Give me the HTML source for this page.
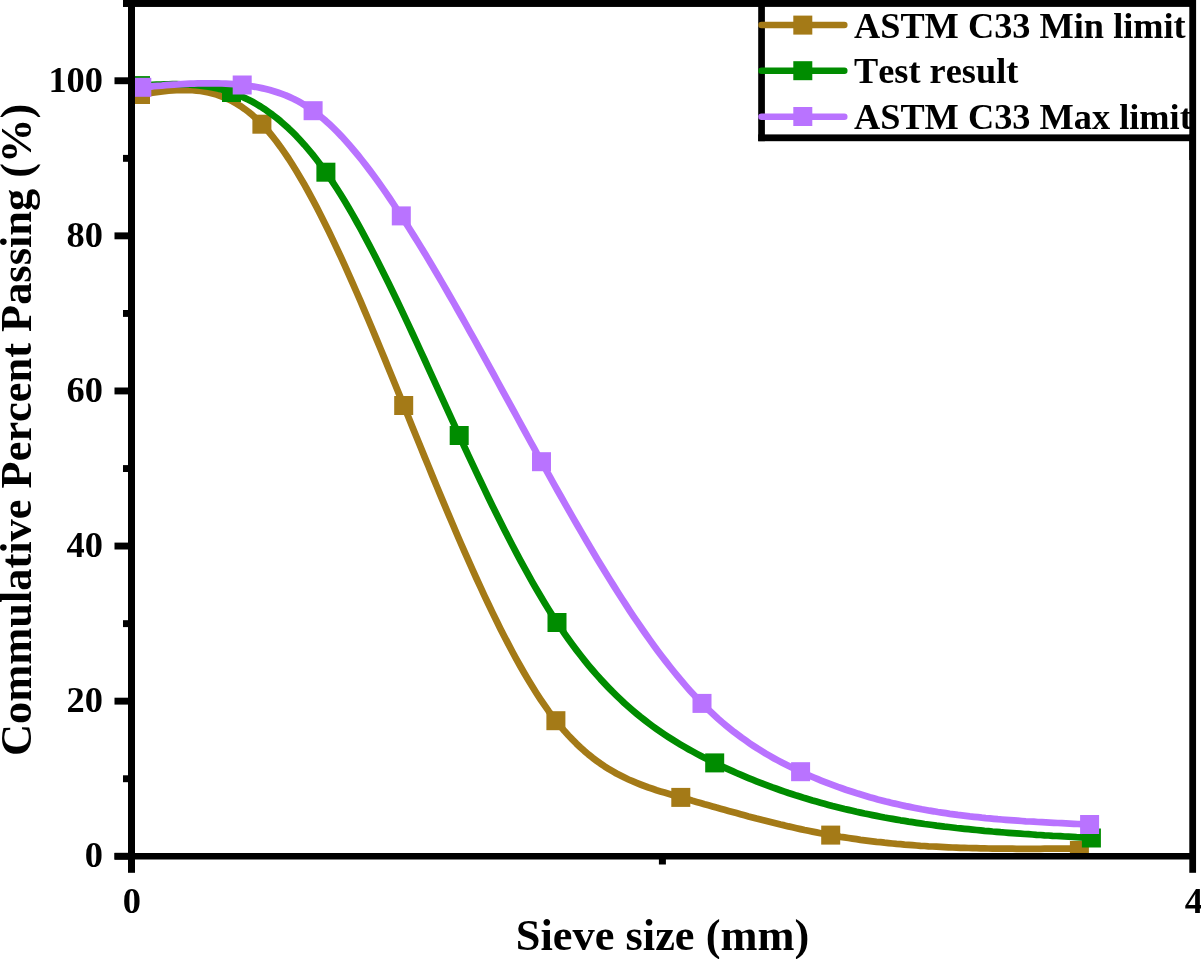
<!DOCTYPE html>
<html><head><meta charset="utf-8"><title>Sieve analysis</title>
<style>
html,body{margin:0;padding:0;background:#fff;}
body{width:1201px;height:959px;overflow:hidden;font-family:"Liberation Serif",serif;}
svg{display:block;will-change:transform;}
svg text{font-family:"Liberation Serif",serif;font-weight:bold;fill:#000;font-kerning:none;}
</style></head>
<body>
<svg width="1201" height="959" viewBox="0 0 1201 959">
<rect width="1201" height="959" fill="#fff"/>
<defs><clipPath id="plot"><rect x="135" y="6" width="1055" height="847.5"/></clipPath></defs>
<g clip-path="url(#plot)">
<path d="M140.5,94.5 L144.5,93.9 L148.5,93.3 L152.5,92.7 L156.5,92.1 L160.5,91.6 L164.5,91.2 L168.5,90.7 L172.5,90.4 L176.5,90.2 L180.5,90.0 L184.5,90.0 L188.5,90.1 L192.5,90.2 L196.5,90.6 L200.5,91.0 L204.5,91.7 L208.5,92.5 L212.5,93.5 L216.5,94.6 L220.5,96.0 L224.5,97.5 L228.5,99.3 L232.5,101.3 L236.5,103.6 L240.5,106.1 L244.5,108.9 L248.5,111.9 L252.5,115.2 L256.5,118.8 L260.5,122.8 L264.5,127.0 L268.5,131.5 L272.5,136.4 L276.5,141.5 L280.5,146.9 L284.5,152.6 L288.5,158.5 L292.5,164.8 L296.5,171.2 L300.5,177.9 L304.5,184.8 L308.5,192.0 L312.5,199.4 L316.5,206.9 L320.5,214.7 L324.5,222.7 L328.5,230.8 L332.5,239.1 L336.5,247.6 L340.5,256.2 L344.5,264.9 L348.5,273.8 L352.5,282.8 L356.5,292.0 L360.5,301.2 L364.5,310.6 L368.5,320.0 L372.5,329.5 L376.5,339.1 L380.5,348.7 L384.5,358.4 L388.5,368.2 L392.5,378.0 L396.5,387.8 L400.5,397.6 L404.5,407.5 L408.5,417.3 L412.5,427.2 L416.5,437.0 L420.5,446.8 L424.5,456.6 L428.5,466.3 L432.5,476.1 L436.5,485.7 L440.5,495.4 L444.5,504.9 L448.5,514.4 L452.5,523.8 L456.5,533.2 L460.5,542.5 L464.5,551.6 L468.5,560.7 L472.5,569.7 L476.5,578.5 L480.5,587.2 L484.5,595.8 L488.5,604.3 L492.5,612.6 L496.5,620.8 L500.5,628.9 L504.5,636.7 L508.5,644.4 L512.5,652.0 L516.5,659.3 L520.5,666.5 L524.5,673.5 L528.5,680.2 L532.5,686.8 L536.5,693.2 L540.5,699.3 L544.5,705.2 L548.5,710.9 L552.5,716.3 L556.5,721.5 L560.5,726.4 L564.5,731.1 L568.5,735.5 L572.5,739.7 L576.5,743.7 L580.5,747.5 L584.5,751.1 L588.5,754.5 L592.5,757.7 L596.5,760.7 L600.5,763.6 L604.5,766.3 L608.5,768.8 L612.5,771.2 L616.5,773.5 L620.5,775.6 L624.5,777.6 L628.5,779.5 L632.5,781.2 L636.5,782.9 L640.5,784.5 L644.5,786.0 L648.5,787.5 L652.5,788.8 L656.5,790.2 L660.5,791.4 L664.5,792.6 L668.5,793.8 L672.5,795.0 L676.5,796.2 L680.5,797.3 L684.5,798.5 L688.5,799.6 L692.5,800.8 L696.5,801.9 L700.5,803.0 L704.5,804.2 L708.5,805.3 L712.5,806.4 L716.5,807.6 L720.5,808.7 L724.5,809.8 L728.5,810.9 L732.5,812.0 L736.5,813.1 L740.5,814.2 L744.5,815.3 L748.5,816.4 L752.5,817.4 L756.5,818.5 L760.5,819.5 L764.5,820.5 L768.5,821.5 L772.5,822.5 L776.5,823.5 L780.5,824.5 L784.5,825.4 L788.5,826.4 L792.5,827.3 L796.5,828.2 L800.5,829.1 L804.5,830.0 L808.5,830.8 L812.5,831.6 L816.5,832.4 L820.5,833.2 L824.5,834.0 L828.5,834.7 L832.5,835.4 L836.5,836.1 L840.5,836.8 L844.5,837.4 L848.5,838.0 L852.5,838.6 L856.5,839.2 L860.5,839.8 L864.5,840.3 L868.5,840.8 L872.5,841.3 L876.5,841.8 L880.5,842.2 L884.5,842.7 L888.5,843.1 L892.5,843.5 L896.5,843.9 L900.5,844.2 L904.5,844.6 L908.5,844.9 L912.5,845.2 L916.5,845.5 L920.5,845.8 L924.5,846.0 L928.5,846.3 L932.5,846.5 L936.5,846.7 L940.5,846.9 L944.5,847.1 L948.5,847.3 L952.5,847.5 L956.5,847.6 L960.5,847.8 L964.5,847.9 L968.5,848.0 L972.5,848.1 L976.5,848.2 L980.5,848.3 L984.5,848.4 L988.5,848.5 L992.5,848.6 L996.5,848.6 L1000.5,848.7 L1004.5,848.7 L1008.5,848.7 L1012.5,848.7 L1016.5,848.8 L1020.5,848.8 L1024.5,848.8 L1028.5,848.8 L1032.5,848.8 L1036.5,848.8 L1040.5,848.8 L1044.5,848.7 L1048.5,848.7 L1052.5,848.7 L1056.5,848.7 L1060.5,848.6 L1064.5,848.6 L1068.5,848.6 L1072.5,848.6 L1076.5,848.5 L1079.4,848.5" fill="none" stroke="#A47A17" stroke-width="6.75" stroke-linejoin="round"/>
<rect x="131.0" y="85.0" width="19" height="19" fill="#A47A17"/>
<rect x="252.4" y="114.7" width="19" height="19" fill="#A47A17"/>
<rect x="394.2" y="396.0" width="19" height="19" fill="#A47A17"/>
<rect x="546.4" y="711.2" width="19" height="19" fill="#A47A17"/>
<rect x="671.3" y="787.9" width="19" height="19" fill="#A47A17"/>
<rect x="821.2" y="825.6" width="19" height="19" fill="#A47A17"/>
<rect x="1069.9" y="841.0" width="19" height="19" fill="#A47A17"/>
<path d="M140.5,85.6 L144.5,85.4 L148.5,85.1 L152.5,84.9 L156.5,84.7 L160.5,84.5 L164.5,84.4 L168.5,84.3 L172.5,84.2 L176.5,84.2 L180.5,84.3 L184.5,84.4 L188.5,84.5 L192.5,84.8 L196.5,85.1 L200.5,85.6 L204.5,86.1 L208.5,86.7 L212.5,87.4 L216.5,88.3 L220.5,89.2 L224.5,90.3 L228.5,91.5 L232.5,92.9 L236.5,94.3 L240.5,96.0 L244.5,97.8 L248.5,99.7 L252.5,101.8 L256.5,104.1 L260.5,106.5 L264.5,109.1 L268.5,111.9 L272.5,114.8 L276.5,117.9 L280.5,121.2 L284.5,124.7 L288.5,128.3 L292.5,132.2 L296.5,136.2 L300.5,140.5 L304.5,144.9 L308.5,149.6 L312.5,154.4 L316.5,159.5 L320.5,164.7 L324.5,170.2 L328.5,175.9 L332.5,181.9 L336.5,188.0 L340.5,194.3 L344.5,200.8 L348.5,207.5 L352.5,214.4 L356.5,221.5 L360.5,228.7 L364.5,236.1 L368.5,243.6 L372.5,251.2 L376.5,259.0 L380.5,266.9 L384.5,274.9 L388.5,283.0 L392.5,291.2 L396.5,299.5 L400.5,307.9 L404.5,316.4 L408.5,324.9 L412.5,333.5 L416.5,342.1 L420.5,350.8 L424.5,359.5 L428.5,368.3 L432.5,377.1 L436.5,385.8 L440.5,394.6 L444.5,403.4 L448.5,412.2 L452.5,420.9 L456.5,429.6 L460.5,438.3 L464.5,447.0 L468.5,455.6 L472.5,464.1 L476.5,472.6 L480.5,481.0 L484.5,489.4 L488.5,497.7 L492.5,505.9 L496.5,514.0 L500.5,522.0 L504.5,529.9 L508.5,537.7 L512.5,545.5 L516.5,553.1 L520.5,560.6 L524.5,567.9 L528.5,575.2 L532.5,582.3 L536.5,589.2 L540.5,596.0 L544.5,602.7 L548.5,609.2 L552.5,615.6 L556.5,621.7 L560.5,627.7 L564.5,633.6 L568.5,639.3 L572.5,644.8 L576.5,650.1 L580.5,655.3 L584.5,660.4 L588.5,665.3 L592.5,670.0 L596.5,674.6 L600.5,679.1 L604.5,683.4 L608.5,687.6 L612.5,691.7 L616.5,695.6 L620.5,699.4 L624.5,703.2 L628.5,706.7 L632.5,710.2 L636.5,713.6 L640.5,716.9 L644.5,720.0 L648.5,723.1 L652.5,726.1 L656.5,729.0 L660.5,731.8 L664.5,734.5 L668.5,737.1 L672.5,739.7 L676.5,742.2 L680.5,744.6 L684.5,746.9 L688.5,749.2 L692.5,751.4 L696.5,753.6 L700.5,755.7 L704.5,757.8 L708.5,759.8 L712.5,761.8 L716.5,763.8 L720.5,765.7 L724.5,767.6 L728.5,769.4 L732.5,771.2 L736.5,773.0 L740.5,774.7 L744.5,776.4 L748.5,778.1 L752.5,779.7 L756.5,781.3 L760.5,782.9 L764.5,784.4 L768.5,785.9 L772.5,787.4 L776.5,788.8 L780.5,790.2 L784.5,791.6 L788.5,793.0 L792.5,794.3 L796.5,795.6 L800.5,796.8 L804.5,798.1 L808.5,799.3 L812.5,800.5 L816.5,801.6 L820.5,802.7 L824.5,803.8 L828.5,804.9 L832.5,806.0 L836.5,807.0 L840.5,808.0 L844.5,809.0 L848.5,809.9 L852.5,810.8 L856.5,811.8 L860.5,812.6 L864.5,813.5 L868.5,814.3 L872.5,815.1 L876.5,815.9 L880.5,816.7 L884.5,817.5 L888.5,818.2 L892.5,818.9 L896.5,819.6 L900.5,820.3 L904.5,820.9 L908.5,821.6 L912.5,822.2 L916.5,822.8 L920.5,823.4 L924.5,824.0 L928.5,824.5 L932.5,825.0 L936.5,825.6 L940.5,826.1 L944.5,826.6 L948.5,827.0 L952.5,827.5 L956.5,828.0 L960.5,828.4 L964.5,828.8 L968.5,829.2 L972.5,829.6 L976.5,830.0 L980.5,830.4 L984.5,830.8 L988.5,831.1 L992.5,831.5 L996.5,831.8 L1000.5,832.2 L1004.5,832.5 L1008.5,832.8 L1012.5,833.1 L1016.5,833.4 L1020.5,833.7 L1024.5,834.0 L1028.5,834.2 L1032.5,834.5 L1036.5,834.8 L1040.5,835.0 L1044.5,835.3 L1048.5,835.5 L1052.5,835.8 L1056.5,836.0 L1060.5,836.2 L1064.5,836.5 L1068.5,836.7 L1072.5,836.9 L1076.5,837.2 L1080.5,837.4 L1084.5,837.6 L1088.5,837.8 L1091.4,838.0" fill="none" stroke="#008C00" stroke-width="6.75" stroke-linejoin="round"/>
<rect x="131.0" y="76.1" width="19" height="19" fill="#008C00"/>
<rect x="222.0" y="83.0" width="19" height="19" fill="#008C00"/>
<rect x="316.4" y="162.7" width="19" height="19" fill="#008C00"/>
<rect x="449.7" y="426.0" width="19" height="19" fill="#008C00"/>
<rect x="547.5" y="613.0" width="19" height="19" fill="#008C00"/>
<rect x="705.2" y="753.4" width="19" height="19" fill="#008C00"/>
<rect x="1081.9" y="828.5" width="19" height="19" fill="#008C00"/>
<path d="M141.8,87.3 L145.8,86.9 L149.8,86.6 L153.8,86.2 L157.8,85.9 L161.8,85.6 L165.8,85.2 L169.8,84.9 L173.8,84.6 L177.8,84.4 L181.8,84.1 L185.8,83.9 L189.8,83.7 L193.8,83.6 L197.8,83.4 L201.8,83.3 L205.8,83.3 L209.8,83.3 L213.8,83.3 L217.8,83.4 L221.8,83.5 L225.8,83.7 L229.8,83.9 L233.8,84.2 L237.8,84.6 L241.8,85.0 L245.8,85.4 L249.8,86.0 L253.8,86.6 L257.8,87.3 L261.8,88.1 L265.8,89.0 L269.8,90.0 L273.8,91.2 L277.8,92.5 L281.8,93.9 L285.8,95.4 L289.8,97.2 L293.8,99.0 L297.8,101.1 L301.8,103.3 L305.8,105.8 L309.8,108.4 L313.8,111.2 L317.8,114.2 L321.8,117.5 L325.8,120.9 L329.8,124.6 L333.8,128.4 L337.8,132.4 L341.8,136.6 L345.8,141.0 L349.8,145.5 L353.8,150.2 L357.8,155.0 L361.8,160.0 L365.8,165.1 L369.8,170.4 L373.8,175.8 L377.8,181.3 L381.8,186.9 L385.8,192.7 L389.8,198.5 L393.8,204.5 L397.8,210.5 L401.8,216.7 L405.8,222.9 L409.8,229.2 L413.8,235.6 L417.8,242.0 L421.8,248.5 L425.8,255.1 L429.8,261.8 L433.8,268.5 L437.8,275.3 L441.8,282.1 L445.8,289.0 L449.8,296.0 L453.8,302.9 L457.8,310.0 L461.8,317.0 L465.8,324.1 L469.8,331.3 L473.8,338.4 L477.8,345.6 L481.8,352.9 L485.8,360.1 L489.8,367.4 L493.8,374.7 L497.8,382.0 L501.8,389.3 L505.8,396.6 L509.8,403.9 L513.8,411.2 L517.8,418.5 L521.8,425.9 L525.8,433.2 L529.8,440.5 L533.8,447.7 L537.8,455.0 L541.8,462.2 L545.8,469.5 L549.8,476.7 L553.8,483.8 L557.8,491.0 L561.8,498.0 L565.8,505.1 L569.8,512.1 L573.8,519.1 L577.8,526.0 L581.8,532.9 L585.8,539.8 L589.8,546.5 L593.8,553.3 L597.8,559.9 L601.8,566.5 L605.8,573.1 L609.8,579.5 L613.8,585.9 L617.8,592.3 L621.8,598.5 L625.8,604.7 L629.8,610.8 L633.8,616.8 L637.8,622.7 L641.8,628.5 L645.8,634.2 L649.8,639.9 L653.8,645.4 L657.8,650.9 L661.8,656.2 L665.8,661.4 L669.8,666.5 L673.8,671.5 L677.8,676.4 L681.8,681.2 L685.8,685.9 L689.8,690.4 L693.8,694.8 L697.8,699.1 L701.8,703.2 L705.8,707.2 L709.8,711.1 L713.8,714.8 L717.8,718.5 L721.8,722.0 L725.8,725.3 L729.8,728.6 L733.8,731.8 L737.8,734.8 L741.8,737.8 L745.8,740.6 L749.8,743.4 L753.8,746.1 L757.8,748.7 L761.8,751.1 L765.8,753.6 L769.8,755.9 L773.8,758.2 L777.8,760.4 L781.8,762.5 L785.8,764.6 L789.8,766.6 L793.8,768.5 L797.8,770.4 L801.8,772.2 L805.8,774.1 L809.8,775.8 L813.8,777.5 L817.8,779.2 L821.8,780.8 L825.8,782.4 L829.8,783.9 L833.8,785.4 L837.8,786.9 L841.8,788.3 L845.8,789.7 L849.8,791.0 L853.8,792.3 L857.8,793.6 L861.8,794.8 L865.8,796.0 L869.8,797.2 L873.8,798.3 L877.8,799.4 L881.8,800.4 L885.8,801.5 L889.8,802.4 L893.8,803.4 L897.8,804.3 L901.8,805.2 L905.8,806.1 L909.8,806.9 L913.8,807.7 L917.8,808.5 L921.8,809.3 L925.8,810.0 L929.8,810.7 L933.8,811.3 L937.8,812.0 L941.8,812.6 L945.8,813.2 L949.8,813.8 L953.8,814.3 L957.8,814.9 L961.8,815.4 L965.8,815.9 L969.8,816.4 L973.8,816.8 L977.8,817.2 L981.8,817.7 L985.8,818.1 L989.8,818.4 L993.8,818.8 L997.8,819.2 L1001.8,819.5 L1005.8,819.8 L1009.8,820.1 L1013.8,820.4 L1017.8,820.7 L1021.8,821.0 L1025.8,821.3 L1029.8,821.5 L1033.8,821.7 L1037.8,822.0 L1041.8,822.2 L1045.8,822.4 L1049.8,822.6 L1053.8,822.8 L1057.8,823.0 L1061.8,823.2 L1065.8,823.4 L1069.8,823.6 L1073.8,823.8 L1077.8,824.0 L1081.8,824.2 L1085.8,824.3 L1089.6,824.5" fill="none" stroke="#B973FF" stroke-width="6.75" stroke-linejoin="round"/>
<rect x="132.3" y="77.8" width="19" height="19" fill="#B973FF"/>
<rect x="232.7" y="75.5" width="19" height="19" fill="#B973FF"/>
<rect x="303.6" y="101.2" width="19" height="19" fill="#B973FF"/>
<rect x="391.8" y="206.4" width="19" height="19" fill="#B973FF"/>
<rect x="532.0" y="452.2" width="19" height="19" fill="#B973FF"/>
<rect x="692.5" y="693.9" width="19" height="19" fill="#B973FF"/>
<rect x="791.1" y="762.2" width="19" height="19" fill="#B973FF"/>
<rect x="1080.1" y="815.0" width="19" height="19" fill="#B973FF"/>
</g>
<!-- frame -->
<rect x="128" y="0" width="7" height="872.8" fill="#000"/>
<rect x="1189.3" y="0" width="6.75" height="872.8" fill="#000"/>
<rect x="123" y="0" width="1073" height="6.95" fill="#000"/>
<rect x="114.5" y="853" width="1081.5" height="6.5" fill="#000"/>
<rect x="658.9" y="853" width="7" height="11.5" fill="#000"/>
<rect x="114.5" y="852.8" width="17" height="6.9" fill="#000"/>
<text x="103" y="867.1" text-anchor="end" font-size="36.4">0</text>
<rect x="114.5" y="697.7" width="17" height="6.9" fill="#000"/>
<text x="103" y="712.0" text-anchor="end" font-size="36.4">20</text>
<rect x="114.5" y="542.6" width="17" height="6.9" fill="#000"/>
<text x="103" y="556.9" text-anchor="end" font-size="36.4">40</text>
<rect x="114.5" y="387.5" width="17" height="6.9" fill="#000"/>
<text x="103" y="401.8" text-anchor="end" font-size="36.4">60</text>
<rect x="114.5" y="232.4" width="17" height="6.9" fill="#000"/>
<text x="103" y="246.7" text-anchor="end" font-size="36.4">80</text>
<rect x="114.5" y="77.3" width="17" height="6.9" fill="#000"/>
<text x="103" y="91.6" text-anchor="end" font-size="36.4">100</text>
<rect x="123" y="775.3" width="8" height="6.9" fill="#000"/>
<rect x="123" y="620.2" width="8" height="6.9" fill="#000"/>
<rect x="123" y="465.1" width="8" height="6.9" fill="#000"/>
<rect x="123" y="310.0" width="8" height="6.9" fill="#000"/>
<rect x="123" y="154.9" width="8" height="6.9" fill="#000"/>
<rect x="123" y="-0.2" width="8" height="6.9" fill="#000"/>
<text x="131.8" y="912.5" text-anchor="middle" font-size="36.4">0</text>
<text x="1184.7" y="912.5" text-anchor="start" font-size="36.4">4</text>
<text x="662.5" y="949.6" text-anchor="middle" font-size="44.4">Sieve size (mm)</text>
<text transform="translate(30.5,429.9) rotate(-90)" text-anchor="middle" font-size="44.4">Commulative Percent Passing (%)</text>
<!-- legend -->
<rect x="764.5" y="6.95" width="425.5" height="127.5" fill="#fff"/>
<rect x="758.2" y="0" width="6.7" height="141.2" fill="#000"/>
<rect x="758.2" y="134.4" width="437" height="6.8" fill="#000"/>
<g stroke-width="6.5" stroke-linecap="round">
<line x1="761.5" y1="25.1" x2="844.3" y2="25.1" stroke="#A47A17"/>
<line x1="761.5" y1="70.8" x2="844.3" y2="70.8" stroke="#008C00"/>
<line x1="761.5" y1="116.7" x2="844.3" y2="116.7" stroke="#B973FF"/>
</g>
<rect x="793.3" y="15.6" width="19" height="19" fill="#A47A17"/>
<rect x="793.3" y="61.2" width="19" height="19" fill="#008C00"/>
<rect x="793.3" y="107" width="19" height="19" fill="#B973FF"/>
<text x="854" y="37.5" font-size="36.3">ASTM C33 Min limit</text>
<text x="854" y="83.2" font-size="36.3">Test result</text>
<text x="854" y="128.9" font-size="36.3">ASTM C33 Max limit</text>
<rect x="1189.3" y="0" width="6.75" height="160" fill="#000"/>
</svg>
</body></html>
